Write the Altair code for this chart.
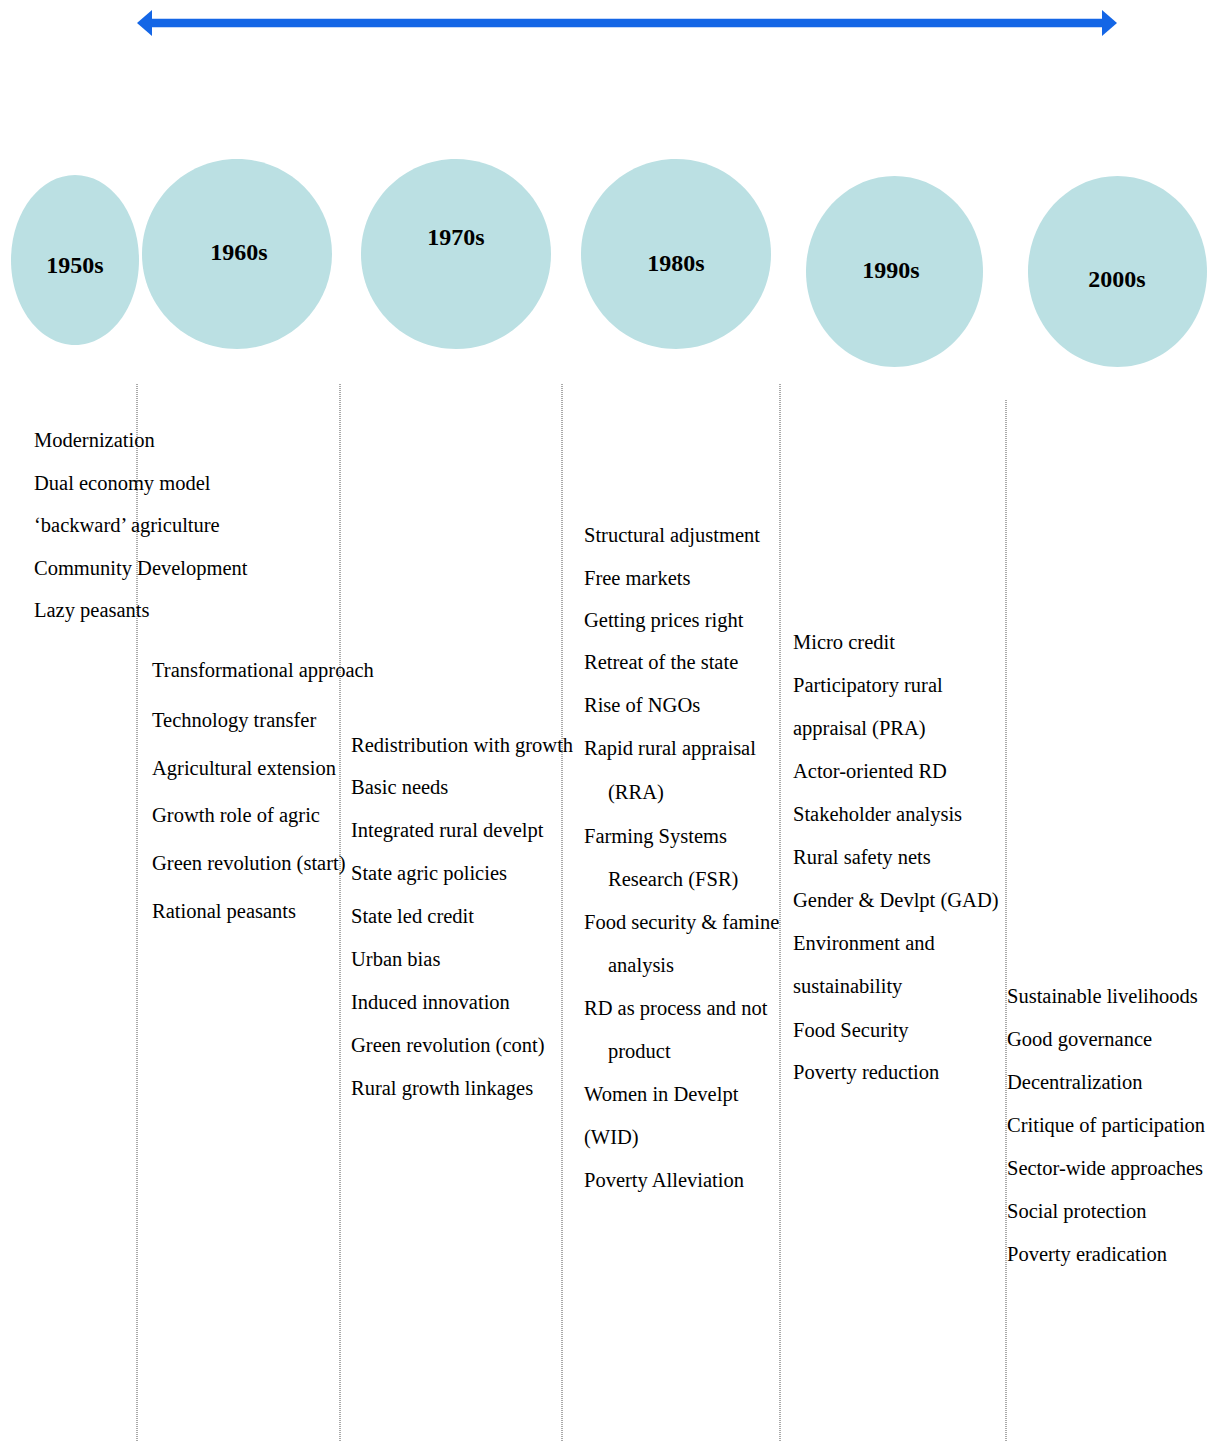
import altair as alt
import pandas as pd

# ---------------- data ----------------
decades = ["1950s", "1960s", "1970s", "1980s", "1990s", "2000s"]

items_1950s = ["Modernization", "Dual economy model", "\u2018backward\u2019 agriculture",
               "Community Development", "Lazy peasants"]
items_1960s = ["Transformational approach", "Technology transfer", "Agricultural extension",
               "Growth role of agric", "Green revolution (start)", "Rational peasants"]
items_1970s = ["Redistribution with growth", "Basic needs", "Integrated rural develpt",
               "State agric policies", "State led credit", "Urban bias", "Induced innovation",
               "Green revolution (cont)", "Rural growth linkages"]
items_1980s = ["Structural adjustment", "Free markets", "Getting prices right",
               "Retreat of the state", "Rise of NGOs", "Rapid rural appraisal", "(RRA)",
               "Farming Systems", "Research (FSR)", "Food security & famine", "analysis",
               "RD as process and not", "product", "Women in Develpt", "(WID)",
               "Poverty Alleviation"]
indented_1980s = ["(RRA)", "Research (FSR)", "analysis", "product"]
items_1990s = ["Micro credit", "Participatory rural", "appraisal (PRA)", "Actor-oriented RD",
               "Stakeholder analysis", "Rural safety nets", "Gender & Devlpt (GAD)",
               "Environment and", "sustainability", "Food Security", "Poverty reduction"]
items_2000s = ["Sustainable livelihoods", "Good governance", "Decentralization",
               "Critique of participation", "Sector-wide approaches", "Social protection",
               "Poverty eradication"]

# ---------------- layout (reference pixel coordinates) ----------------
W, H = 1202, 1434
X0, Y0 = 8, 8
bubble_cx = [75, 237, 456, 676, 894.5, 1117.5]
bubble_cy = [260, 254, 254, 254, 271.5, 271.5]
bubble_rx = [64, 95, 95, 95, 88.5, 89.5]
bubble_ry = [85, 95, 95, 95, 95.5, 95.5]
label_x = [75, 239, 456, 676, 891, 1117]
label_y = [273, 260, 245, 271, 278, 287]

col_x = [34, 152, 351, 584, 793, 1007]
indent_x = 608
baselines = [
    [447, 490, 532, 575, 617],
    [677, 727, 775, 822, 870, 918],
    [752, 794, 837, 880, 923, 966, 1009, 1052, 1095],
    [542, 585, 627, 669, 712, 755, 799, 843, 886, 929, 972, 1015, 1058, 1101, 1144, 1187],
    [649, 692, 735, 778, 821, 864, 907, 950, 993, 1037, 1079],
    [1003, 1046, 1089, 1132, 1175, 1218, 1261],
]
sep_x = [137, 340, 562, 780, 1006]
sep_top = [384, 384, 384, 384, 400]
sep_bottom = 1445

arrow_y = 23
arrow_left, arrow_right = 144.5, 1109.5

BLUE = "#1466E6"
TEAL = "#BBE0E3"

xs = alt.Scale(domain=[X0, X0 + W], nice=False, zero=False)
ys = alt.Scale(domain=[Y0, Y0 + H], nice=False, zero=False, reverse=True)
X = lambda f: alt.X(f, type="quantitative", scale=xs, axis=None)
Y = lambda f: alt.Y(f, type="quantitative", scale=ys, axis=None)

# ---- bubbles ----
def ellipse_path(rx, ry):
    k = rx / ry
    return (f"M{-k:.4f},0A{k:.4f},1 0 1,1 {k:.4f},0"
            f"A{k:.4f},1 0 1,1 {-k:.4f},0Z")

bub = pd.DataFrame({
    "decade": decades,
    "x": bubble_cx,
    "y": bubble_cy,
    "shape": [ellipse_path(a, b) for a, b in zip(bubble_rx, bubble_ry)],
    "size": [4 * b * b for b in bubble_ry],
    "lx": label_x,
    "ly": label_y,
})
bubbles = alt.Chart(bub).mark_point(filled=True, color=TEAL, opacity=1, strokeWidth=0).encode(
    x=X("x"), y=Y("y"),
    shape=alt.Shape("shape:N", scale=None),
    size=alt.Size("size:Q", scale=None),
)
bub_labels = alt.Chart(bub).mark_text(
    font="Liberation Serif", fontWeight="bold", fontSize=24, color="black",
    align="center", baseline="alphabetic"
).encode(x=X("lx"), y=Y("ly"), text="decade:N")

# ---- arrow ----
arrow_df = pd.DataFrame({"x": [arrow_left], "x2": [arrow_right], "y": [arrow_y]})
shaft = alt.Chart(arrow_df).mark_rule(color=BLUE, strokeWidth=8.5).encode(
    x=X("x"), x2="x2", y=Y("y"))
head_l = alt.Chart(pd.DataFrame({"x": [arrow_left], "y": [arrow_y]})).mark_point(
    shape="M-0.577,0L0.577,-1L0.577,1Z", size=676, filled=True, color=BLUE, opacity=1,
    strokeWidth=0).encode(x=X("x"), y=Y("y"))
head_r = alt.Chart(pd.DataFrame({"x": [arrow_right], "y": [arrow_y]})).mark_point(
    shape="M0.577,0L-0.577,-1L-0.577,1Z", size=676, filled=True, color=BLUE, opacity=1,
    strokeWidth=0).encode(x=X("x"), y=Y("y"))

# ---- separators ----
sep = pd.DataFrame({"x": sep_x, "y": sep_top, "y2": [sep_bottom] * len(sep_x)})
seps = alt.Chart(sep).mark_rule(color="#555555", strokeWidth=1, strokeDash=[1, 1]).encode(
    x=X("x"), y=Y("y"), y2="y2")

# ---- text items ----
all_items = [items_1950s, items_1960s, items_1970s, items_1980s, items_1990s, items_2000s]
rows = []
for ci, (items, bl) in enumerate(zip(all_items, baselines)):
    for it, b in zip(items, bl):
        x = col_x[ci]
        if ci == 3 and it in indented_1980s:
            x = indent_x
        rows.append({"decade": decades[ci], "text": it, "x": x, "y": b})
txt = pd.DataFrame(rows)
texts = alt.Chart(txt).mark_text(
    font="Liberation Serif", fontSize=20.5, color="black", align="left", baseline="alphabetic"
).encode(x=X("x"), y=Y("y"), text="text:N")

chart = alt.layer(seps, bubbles, bub_labels, shaft, head_l, head_r, texts).properties(
    width=W, height=H, padding=0, autosize="none"
).configure_view(stroke=None)

chart.save("out.html", embed_options={"renderer": "svg", "actions": False})
